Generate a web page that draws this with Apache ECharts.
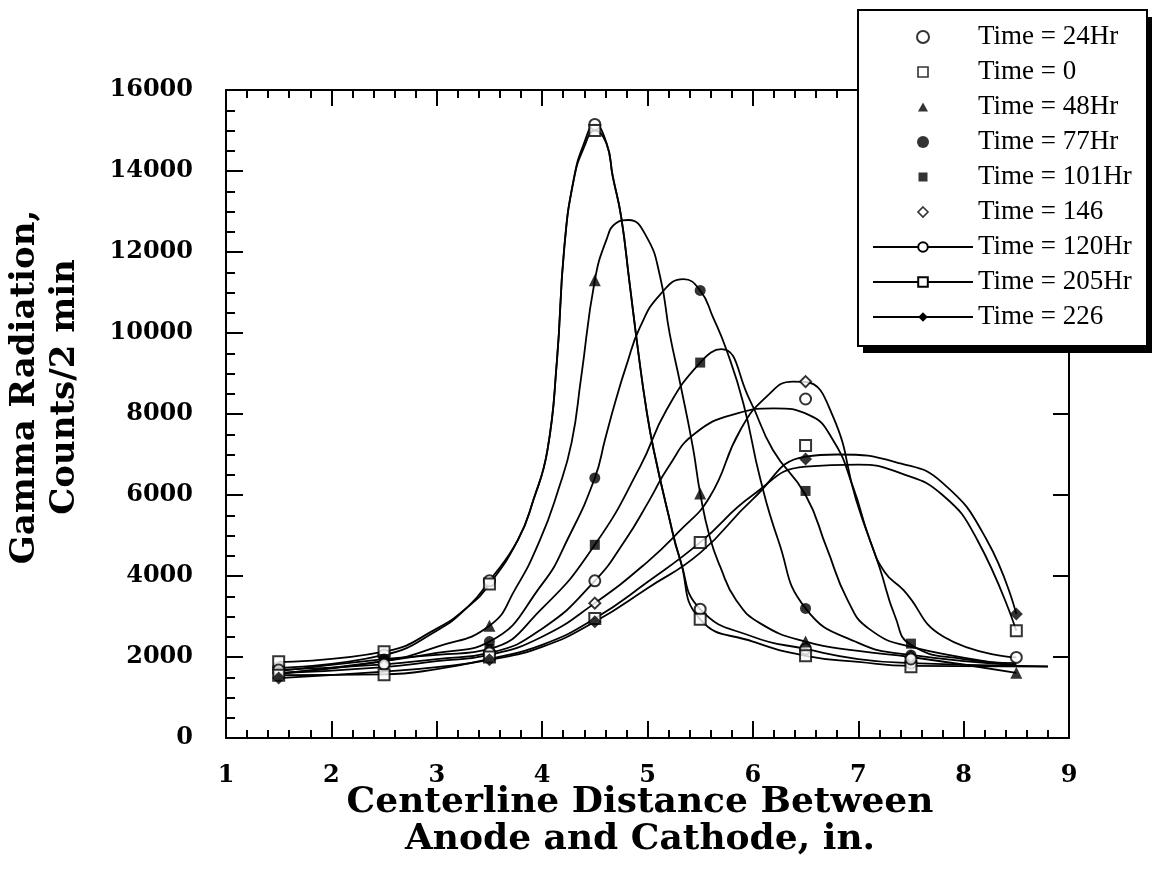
<!DOCTYPE html>
<html><head><meta charset="utf-8">
<script src="https://cdn.jsdelivr.net/npm/echarts@6/dist/echarts.min.js"></script>
<style>html,body{margin:0;padding:0;background:#fff}#c{width:1152px;height:889px}</style>
</head><body><div id="c"></div>
<script>
// ---------- data ----------
const seriesNames = ['Time = 24Hr','Time = 0','Time = 48Hr','Time = 77Hr','Time = 101Hr','Time = 146','Time = 120Hr','Time = 205Hr','Time = 226'];
const xPositions = [1.5, 2.5, 3.5, 4.5, 5.5, 6.5, 7.5, 8.5];
const xTickLabels = ['1','2','3','4','5','6','7','8','9'];
const yTickLabels = ['0','2000','4000','6000','8000','10000','12000','14000','16000'];

// measured points (markers)
const t24  = [1730, 2050, 3880, 15150, 3180, 2200, 1850, null];
const t0   = [1880, 2130, 3800, 15000, 2930, 2030, 1760, null];
const t48  = [1600, 1900, 2770, 11300, 6040, 2380, 2000, 1610];
const t77  = [1580, 1950, 2380, 6420, 11050, 3200, 2050, null];
const t101 = [1650, 1950, 2200, 4770, 9270, 6100, 2330, null];
const t146 = [1600, 1800, 2150, 3330, null, 8800, 2000, null];
const t120 = [1680, 1820, 2100, 3880, null, 8370, 1950, 1990];
const t205 = [1550, 1560, 2000, 2950, 4830, 7220, null, 2650];
const t226 = [1480, null, 1930, 2870, null, 6890, null, 3060];

// fitted curves as [x, value]
const curve24 = [[1.5,1730],[2.5,2050],[3.0,2650],[3.3,3250],[3.5,3880],[3.77,4890],[3.92,5900],[4.05,7100],[4.14,9300],[4.21,12100],[4.3,13800],[4.4,14700],[4.5,15150],[4.61,14700],[4.67,13880],[4.75,12870],[4.83,11230],[4.91,9580],[4.99,8100],[5.06,7100],[5.2,5500],[5.31,4400],[5.5,3180],[6.0,2500],[6.5,2200],[7.0,1950],[7.5,1850],[8.8,1770]];
const curve0  = [[1.5,1880],[2.5,2130],[3.0,2700],[3.3,3250],[3.5,3800],[3.77,4890],[3.92,5900],[4.05,7100],[4.14,9300],[4.21,12100],[4.3,13780],[4.4,14600],[4.5,15000],[4.61,14680],[4.67,13860],[4.75,12870],[4.83,11230],[4.91,9580],[4.99,8100],[5.06,7100],[5.2,5500],[5.31,4400],[5.5,2930],[6.0,2380],[6.5,2030],[7.0,1880],[7.5,1780],[8.8,1760]];
const curve48 = [[1.5,1600],[2.5,1900],[3.0,2250],[3.5,2770],[3.75,3700],[3.98,4890],[4.15,6100],[4.28,7300],[4.37,8900],[4.5,11300],[4.61,12300],[4.7,12710],[4.82,12790],[4.99,12380],[5.12,11390],[5.21,9990],[5.31,8760],[5.43,7190],[5.5,6040],[5.59,4970],[5.69,4230],[5.84,3410],[6.07,2830],[6.5,2380],[7.0,2150],[7.5,2000],[8.5,1610]];
const curve77 = [[1.5,1580],[2.5,1900],[3.0,2100],[3.5,2380],[4.0,3800],[4.25,4950],[4.5,6420],[4.6,7400],[4.7,8350],[4.8,9200],[4.93,10150],[5.12,10950],[5.34,11330],[5.5,11050],[5.62,10400],[5.75,9580],[5.91,8260],[6.07,6400],[6.24,4890],[6.5,3200],[7.0,2350],[7.5,2050],[8.5,1800]];
const curve101 = [[1.5,1650],[2.5,1950],[3.0,2050],[3.5,2200],[4.0,3200],[4.5,4770],[4.93,6700],[5.18,8100],[5.5,9270],[5.7,9600],[5.97,8350],[6.19,7110],[6.5,6000],[6.7,4700],[6.9,3400],[7.1,2700],[7.5,2250],[8.5,1800]];
const curve146 = [[1.5,1600],[2.5,1750],[3.0,1900],[3.5,2050],[4.0,2500],[4.5,3330],[5.0,4350],[5.3,5100],[5.59,5950],[5.88,7600],[6.13,8430],[6.38,8800],[6.5,8790],[6.76,7940],[6.98,5880],[7.2,4230],[7.35,3000],[7.5,2300],[8.0,1950],[8.5,1850]];
const curve120 = [[1.5,1680],[2.5,1820],[3.0,1950],[3.5,2100],[4.0,2700],[4.5,3880],[4.79,4890],[5.02,5880],[5.2,6700],[5.45,7520],[5.86,8020],[6.2,8140],[6.53,7980],[6.76,7360],[6.95,6200],[7.11,4890],[7.25,4100],[7.43,3650],[7.81,2500],[8.5,1990]];
const curve205 = [[1.5,1550],[2.5,1570],[3.0,1700],[3.5,1950],[4.0,2300],[4.5,2950],[5.0,3850],[5.5,4830],[6.0,6000],[6.5,6700],[7.0,6750],[7.4,6540],[7.8,6000],[8.13,4890],[8.5,2650]];
const curve226 = [[1.5,1480],[2.5,1640],[3.0,1750],[3.5,1930],[4.0,2250],[4.5,2870],[5.0,3700],[5.5,4570],[6.0,5900],[6.5,6950],[6.8,7000],[7.4,6780],[7.8,6300],[8.22,4890],[8.5,3060]];

// ---------- build ----------
const markerVals = [t24, t0, t48, t77, t101, t146, t120, t205, t226];
const curves = [curve24, curve0, curve48, curve77, curve101, curve146, curve120, curve205, curve226];
const symbols = ['emptyCircle','emptyRect','triangle','circle','rect','emptyDiamond','emptyCircle','emptyRect','diamond'];
const symSizes = [11, 11, 12, 11, 10, 11, 11, 11, 13];
const withLineInLegend = [false,false,false,false,false,false,true,true,true];

// legend icons for the marker-only entries (square, keep aspect, small margin)
const legendIcons = [
  null,
  'path://M0,0M12,12M1,1H11V11H1Z',
  'path://M0,0M12,12M6,1.5L11,10.5H1Z',
  null,
  'path://M0,0M12,12M1.5,1.5H10.5V10.5H1.5Z',
  'path://M0,0M12,12M6,1L11,6L6,11L1,6Z',
  null, null, null
];
const legendEmpty = [false, true, false, false, false, true, false, false, false];

function pts(vals){ return xPositions.map((x,i)=> vals[i]==null ? null : [x, vals[i]]).filter(Boolean); }

const series = [];
seriesNames.forEach((name, i) => {
  const lineS = {
    name: name, type: 'line', data: curves[i], smooth: 0.5,
    symbol: symbols[i], symbolSize: symSizes[i], showSymbol: false,
    lineStyle: {color: '#000', width: 1.8}, itemStyle: {color: '#000'},
    xAxisIndex: 0, yAxisIndex: 0, z: 2, silent: true
  };
  const scatS = {
    name: name, type: 'scatter', data: pts(markerVals[i]),
    symbol: symbols[i], symbolSize: symSizes[i],
    itemStyle: {color: '#000', borderWidth: 1.6},
    xAxisIndex: 0, yAxisIndex: 0, z: 4, silent: true
  };
  if (withLineInLegend[i]) { series.push(lineS, scatS); } else { series.push(scatS, lineS); }
});

const legendData = seriesNames.map((name, i) => {
  const item = {name: name};
  if (legendIcons[i]) item.icon = legendIcons[i];
  if (legendEmpty[i]) item.itemStyle = {color: '#fff', borderColor: '#000', borderWidth: 1.6};
  return item;
});

const tickFont = {fontFamily: 'DejaVu Serif', fontWeight: 'bold', fontSize: 24, color: '#000'};
const axisLineStyle = {color: '#000', width: 2};
const tickLine = {color: '#000', width: 2};

function frameAxis(pos, min, max, interval, majorLen, minorSplit, minorLen, label) {
  return {
    type: 'value', position: pos, min: min, max: max, interval: interval,
    axisLine: {show: true, onZero: false, lineStyle: axisLineStyle},
    axisTick: {show: true, inside: true, length: majorLen, lineStyle: tickLine},
    minorTick: minorSplit ? {show: true, splitNumber: minorSplit, length: minorLen, lineStyle: tickLine} : {show: false},
    splitLine: {show: false},
    axisLabel: label || {show: false}
  };
}

const option = {
  animation: false,
  backgroundColor: '#fff',
  grid: {left: 226, right: 83, top: 90, bottom: 151, containLabel: false},
  xAxis: [
    frameAxis('bottom', 1, 9, 1, 17, 5, 8,
      Object.assign({show: true, margin: 26, formatter: v => xTickLabels[Math.round(v) - 1]}, tickFont)),
    frameAxis('top', 1, 9, 1, 16, 5, 8, null)
  ],
  yAxis: [
    frameAxis('left', 0, 16000, 2000, 17, 4, 9,
      Object.assign({show: true, margin: 33, formatter: v => yTickLabels[Math.round(v / 2000)]}, tickFont)),
    frameAxis('right', 0, 16000, 2000, 16, 0, 0, null)
  ],
  legend: {
    orient: 'vertical', left: 858, top: 10, z: 30,
    data: legendData,
    itemWidth: 100, itemHeight: 12, itemGap: 5,
    padding: [12, 22, 14, 14],
    symbolKeepAspect: true,
    selectedMode: false,
    textStyle: {fontFamily: 'Liberation Serif', fontSize: 27, color: '#000', lineHeight: 30}
  },
  graphic: [
    {type: 'rect', z: 20, shape: {x: 863, y: 17, width: 289, height: 336}, style: {fill: '#000'}},
    {type: 'rect', z: 21, shape: {x: 858, y: 10, width: 289, height: 336}, style: {fill: '#fff', stroke: '#000', lineWidth: 2}},
    {type: 'text', x: 45, y: 387, rotation: Math.PI / 2,
     style: {text: 'Gamma Radiation,\nCounts/2 min', font: 'bold 34px "DejaVu Serif"', fill: '#000',
             textAlign: 'center', textVerticalAlign: 'middle', lineHeight: 40}},
    {type: 'text', x: 640, y: 821,
     style: {text: 'Centerline Distance Between\nAnode and Cathode, in.', font: 'bold 36px "DejaVu Serif"', fill: '#000',
             textAlign: 'center', textVerticalAlign: 'middle', lineHeight: 37}}
  ],
  series: series
};

const chart = echarts.init(document.getElementById('c'), null, {renderer: 'canvas'});
chart.setOption(option);
</script>
</body></html>
